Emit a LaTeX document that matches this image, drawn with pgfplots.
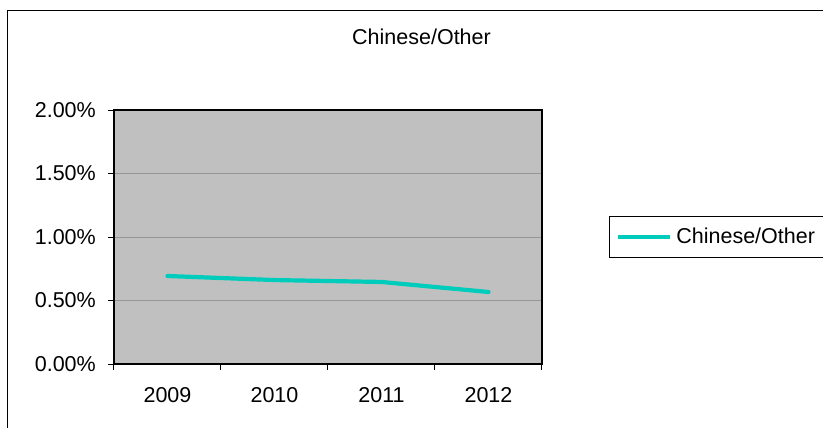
\documentclass[border=0pt]{standalone}
\usepackage{pgfplots}
\pgfplotsset{compat=1.18}
\usepackage{fontspec}
\setmainfont{Liberation Sans}
\definecolor{plotgray}{RGB}{192,192,192}
\definecolor{gridgray}{RGB}{150,150,150}
\definecolor{teal}{RGB}{0,204,188}
\begin{document}
\begin{tikzpicture}[x=1pt,y=-1pt]
\useasboundingbox (0,0) rectangle (823,428);
% chart frame (left and top edges)
\draw[black, line width=1.2pt] (7.5,440) -- (7.5,10.5) -- (860,10.5);
% title
\node[anchor=base, inner sep=0pt, font=\fontsize{21.5}{24}\selectfont] at (421.5,45) {Chinese/Other};
\begin{axis}[
  scale only axis,
  width=428pt, height=254pt,
  anchor=south west, at={(114pt,-364pt)},
  xmin=0.5, xmax=4.5, ymin=0, ymax=2,
  axis background/.style={fill=plotgray},
  axis line style={black, line width=1.6pt},
  xtick={1,2,3,4},
  xticklabels={2009,2010,2011,2012},
  minor xtick={0.5,1.5,2.5,3.5,4.5},
  major x tick style={draw=none},
  minor x tick style={black, line width=1pt},
  minor tick length=6pt,
  ytick={0,0.5,1,1.5,2},
  yticklabels={0.00\%,0.50\%,1.00\%,1.50\%,2.00\%},
  y tick style={black, line width=1pt},
  major tick length=6pt,
  tick align=outside,
  xtick pos=bottom, ytick pos=left,
  ymajorgrids,
  grid style={gridgray, line width=0.8pt},
  tick label style={font=\fontsize{21.5}{24}\selectfont},
  yticklabel style={anchor=east, inner sep=0pt, xshift=-12pt},
  xticklabel style={anchor=north, inner sep=0pt, yshift=-17pt},
  legend style={at={(1.1565,0.5827)}, anchor=north west, draw=black, line width=0.8pt,
    inner xsep=7pt, inner ysep=10pt, text depth=0pt,
    font=\fontsize{21.5}{24}\selectfont,
    /tikz/every odd column/.append style={column sep=2pt},
    /tikz/every even column/.append style={column sep=20pt}},
  legend image code/.code={\draw[#1, line width=4pt, line cap=butt] (0pt,0pt) -- (52pt,0pt);},
]
\addplot[teal, line width=4.2pt, line cap=round, line join=round] coordinates {
  (1,0.693) (2,0.661) (3,0.646) (4,0.567)
};
\addlegendentry{Chinese/Other}
\end{axis}
\end{tikzpicture}
\end{document}
